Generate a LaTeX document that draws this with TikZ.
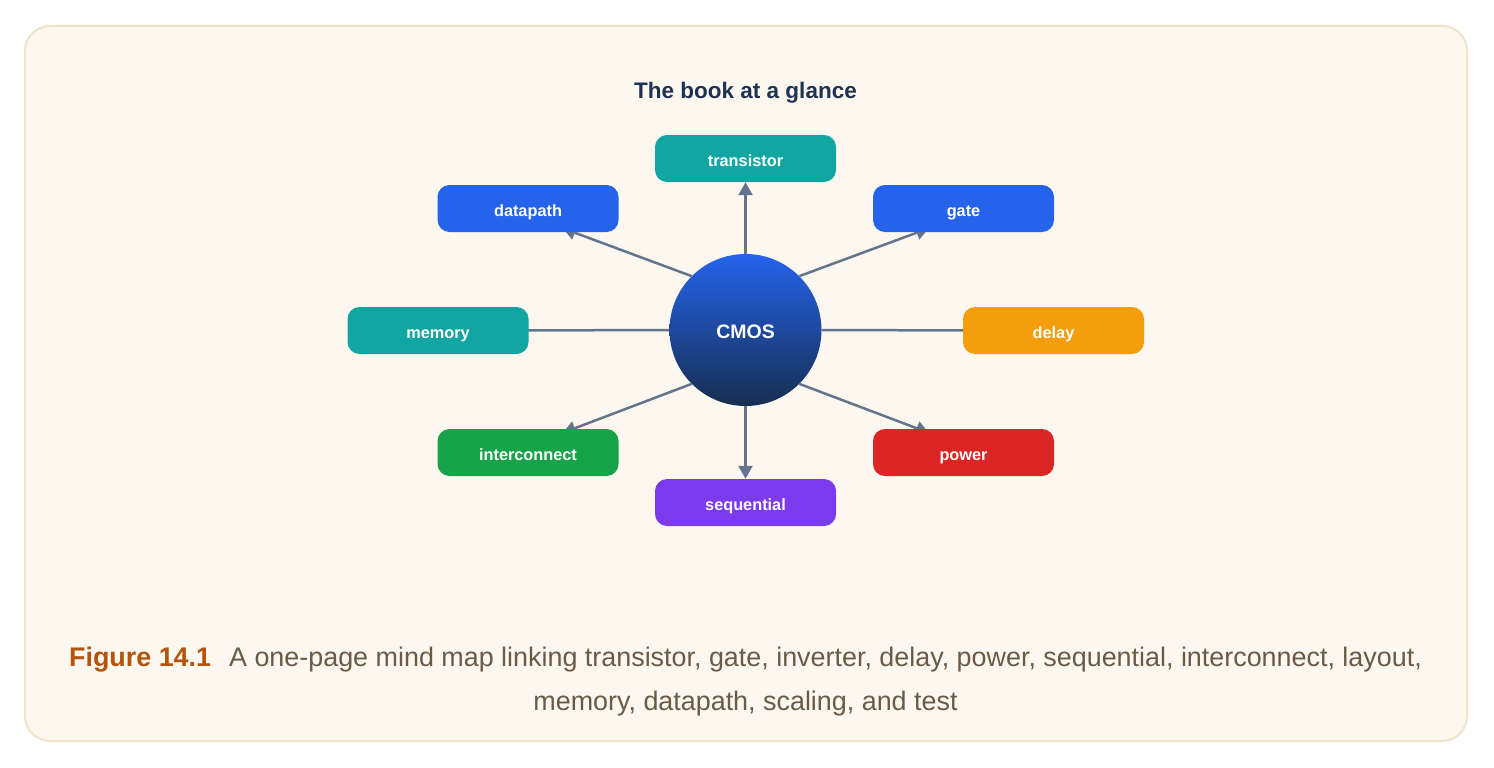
\documentclass[tikz,border=0pt]{standalone}
\usepackage{fontspec}
\setmainfont{Liberation Sans}
\usetikzlibrary{arrows.meta,shapes.geometric,calc}
\definecolor{bgcol}{HTML}{FCF8F0}
\definecolor{framecol}{HTML}{EFE3CC}
\definecolor{tealc}{HTML}{11A6A1}
\definecolor{bluec}{HTML}{2563EB}
\definecolor{orangec}{HTML}{F59E0B}
\definecolor{greenc}{HTML}{16A34A}
\definecolor{redc}{HTML}{DC2626}
\definecolor{purplec}{HTML}{7C3AED}
\definecolor{titlec}{HTML}{1E3352}
\definecolor{capord}{HTML}{B45309}
\definecolor{captext}{HTML}{6B5A45}
\definecolor{edgec}{HTML}{64748B}
\definecolor{cmostop}{HTML}{2563EB}
\definecolor{cmosbot}{HTML}{172E50}
\pgfdeclarelayer{back}
\pgfsetlayers{back,main}
\tikzset{
  topic/.style={rectangle, rounded corners=12pt, minimum width=181pt, minimum height=47pt,
    inner sep=0pt, text=white, text height=15pt, text depth=0pt,
    font=\fontsize{16.3}{19}\selectfont\bfseries},
  edge/.style={draw=edgec, line width=2.5pt, -{Triangle[length=13pt,width=14pt]}},
}
\begin{document}
\begin{tikzpicture}[x=1pt,y=-1pt]
\useasboundingbox (0,0) rectangle (1494,768);
\node[anchor=base, text=titlec, font=\fontsize{22.5}{26}\selectfont\bfseries] (title) at (745.5,99) {The book at a glance};
\node[circle, minimum size=152pt, inner sep=0pt, top color=cmostop, bottom color=cmosbot, draw=none,
  text=white, text height=16.6pt, text depth=0pt, font=\fontsize{19.5}{22}\selectfont\bfseries] (cmos) at (745.5,330) {CMOS};
\node[topic, fill=tealc] (tr) at (745.5,158.5) {transistor};
\node[topic, fill=bluec] (dp) at (528,208.5) {datapath};
\node[topic, fill=bluec] (ga) at (963.5,208.5) {gate};
\node[topic, fill=tealc] (me) at (438,330.5) {memory};
\node[topic, fill=orangec] (de) at (1053.5,330.5) {delay};
\node[topic, fill=greenc] (ic) at (528,452.5) {interconnect};
\node[topic, fill=redc] (po) at (963.5,452.5) {power};
\node[topic, fill=purplec] (se) at (745.5,502.5) {sequential};
\node[anchor=base, font=\fontsize{26.9}{31}\selectfont] (cap1) at (745.5,666)
  {\textcolor{capord}{\bfseries Figure 14.1}\hspace{0.67em}\textcolor{captext}{A one-page mind map linking transistor, gate, inverter, delay, power, sequential, interconnect, layout,}};
\node[anchor=base, font=\fontsize{26.9}{31}\selectfont, text=captext] (cap2) at (745.5,710)
  {memory, datapath, scaling, and test};
\coordinate (dpend) at ($(dp.south)!0.5!(dp.south east)$);
\coordinate (gaend) at ($(ga.south)!0.5!(ga.south west)$);
\coordinate (icend) at ($(ic.north)!0.5!(ic.north east)$);
\coordinate (poend) at ($(po.north)!0.5!(po.north west)$);
\begin{pgfonlayer}{back}
\fill[white] (0,0) rectangle (1494,768);
\draw[framecol, fill=bgcol, line width=2pt, rounded corners=25pt] (25,26) rectangle (1467,741);
\draw[edge] (cmos) -- (tr);
\draw[edge] (cmos) -- (se);
\draw[edge, shorten >=-11.5pt] (cmos.135) -- (dpend);
\draw[edge, shorten >=-11.5pt] (cmos.45) -- (gaend);
\draw[edge, shorten >=-11.5pt] (cmos.225) -- (icend);
\draw[edge, shorten >=-11.5pt] (cmos.-45) -- (poend);
\draw[edge] (cmos) -- (me.center);
\draw[edge] (cmos) -- (de.center);
\end{pgfonlayer}
\end{tikzpicture}
\end{document}
